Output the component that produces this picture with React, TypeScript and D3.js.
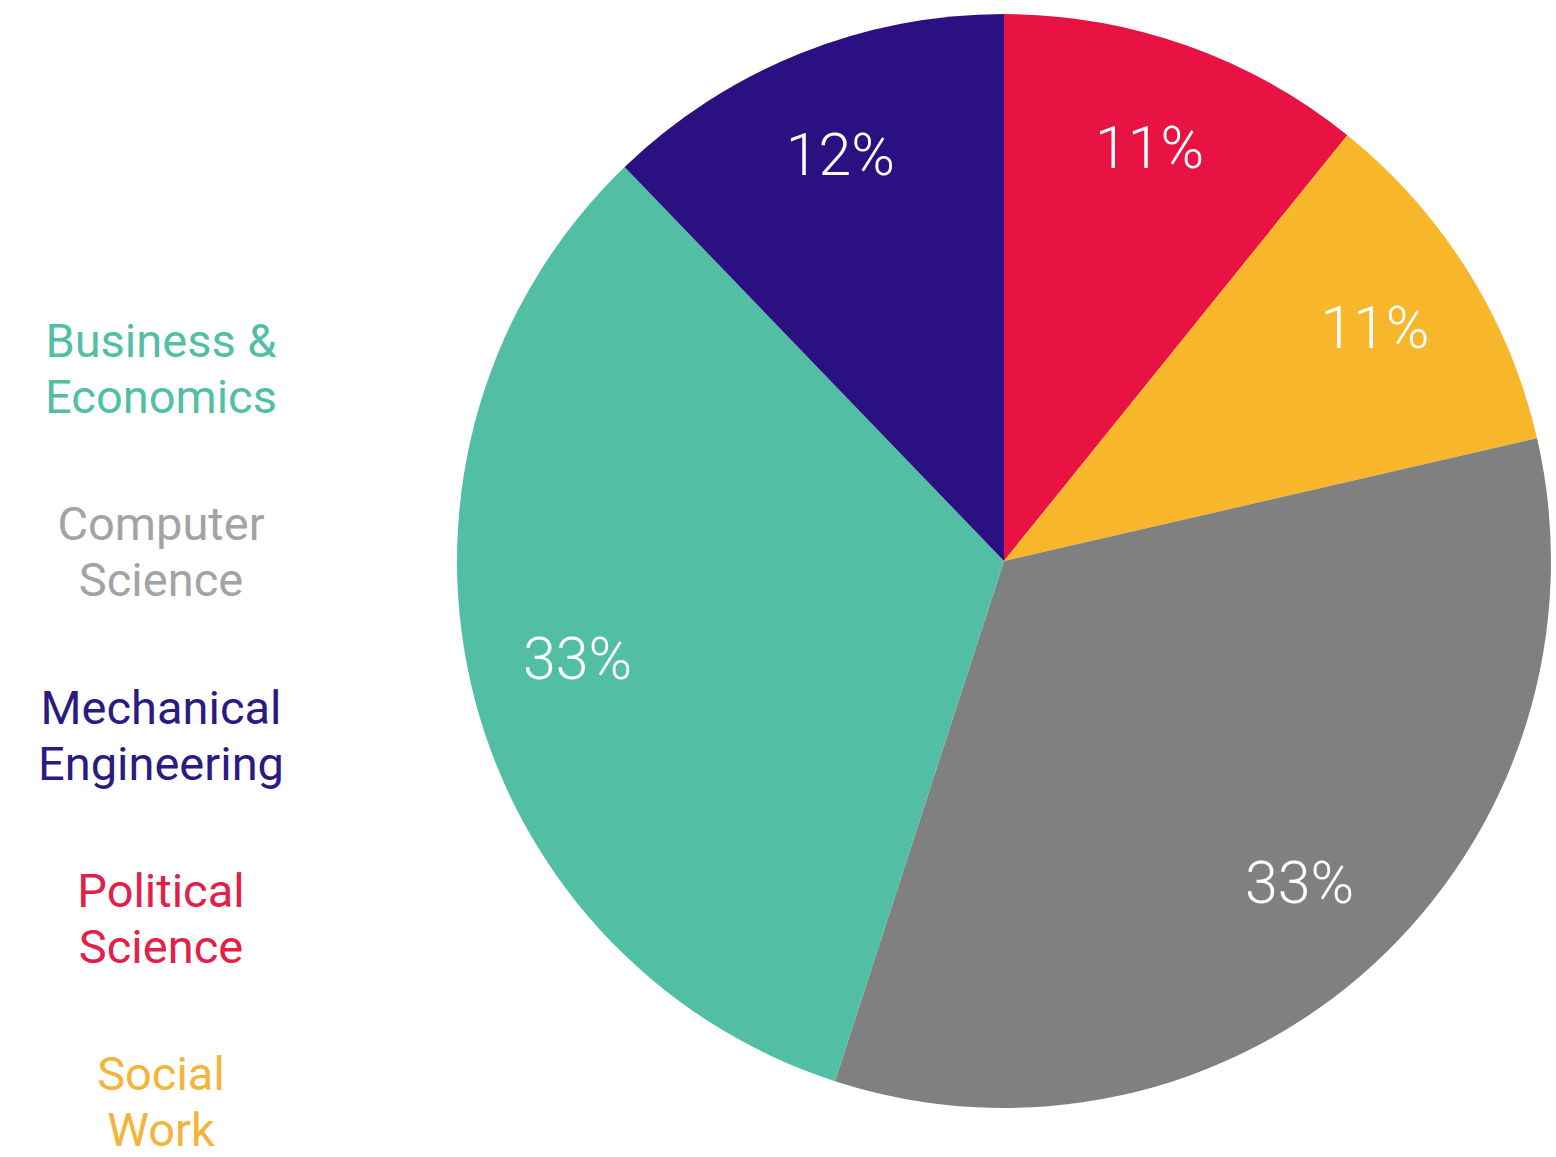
import React from "react";
import * as d3 from "d3";

// Slices in clockwise order starting at 12 o'clock
const categories = [
  "Political Science",
  "Social Work",
  "Computer Science",
  "Business & Economics",
  "Mechanical Engineering",
];
const values = [10.8, 10.6, 33.6, 32.8, 12.2];
const percentLabels = ["11%", "11%", "33%", "33%", "12%"];
const sliceColors = ["#E91343", "#F8B62B", "#808080", "#52BFA5", "#2A1080"];
const legendColors = ["#E2204A", "#F2B53A", "#A3A3A3", "#52BFA5", "#2B1A80"];
const legendLines: Record<string, string[]> = {
  "Political Science": ["Political", "Science"],
  "Social Work": ["Social", "Work"],
  "Computer Science": ["Computer", "Science"],
  "Business & Economics": ["Business &", "Economics"],
  "Mechanical Engineering": ["Mechanical", "Engineering"],
};

const W = 1556;
const H = 1157;
const CX = 1004;
const CY = 561;
const R = 547;

export default function App() {
  const pie = d3
    .pie<number>()
    .sort(null)
    .value((d) => d);
  const arcs = pie(values);
  const arc = d3.arc<d3.PieArcDatum<number>>().innerRadius(0).outerRadius(R);
  const labelArc = d3
    .arc<d3.PieArcDatum<number>>()
    .innerRadius(R * 0.8)
    .outerRadius(R * 0.8);

  const legendOrder = categories
    .map((c, i) => i)
    .sort((a, b) => d3.ascending(categories[a], categories[b]));
  const legendY = d3
    .scalePoint<number>()
    .domain(legendOrder)
    .range([357, 1090]);

  return (
    <svg
      width={W}
      height={H}
      style={{ position: "absolute", left: 0, top: 0, background: "#fff" }}
      fontFamily="Roboto, 'Noto Sans', sans-serif"
    >
      <g transform={`translate(${CX},${CY})`}>
        {arcs.map((a, i) => (
          <path key={i} d={arc(a) || ""} fill={sliceColors[i]} />
        ))}
        {arcs.map((a, i) => {
          const [x, y] = labelArc.centroid(a);
          return (
            <text
              key={"l" + i}
              x={x}
              y={y}
              dy="0.33em"
              textAnchor="middle"
              fill="#fff"
              fontSize={59}
              fontWeight={300}
            >
              {percentLabels[i]}
            </text>
          );
        })}
      </g>
      <g>
        {legendOrder.map((i) => (
          <text
            key={"g" + i}
            x={161}
            y={legendY(i)}
            textAnchor="middle"
            fill={legendColors[i]}
            fontSize={47}
            fontWeight={400}
          >
            {legendLines[categories[i]].map((line, k) => (
              <tspan key={k} x={161} dy={k === 0 ? 0 : 56}>
                {line}
              </tspan>
            ))}
          </text>
        ))}
      </g>
    </svg>
  );
}
